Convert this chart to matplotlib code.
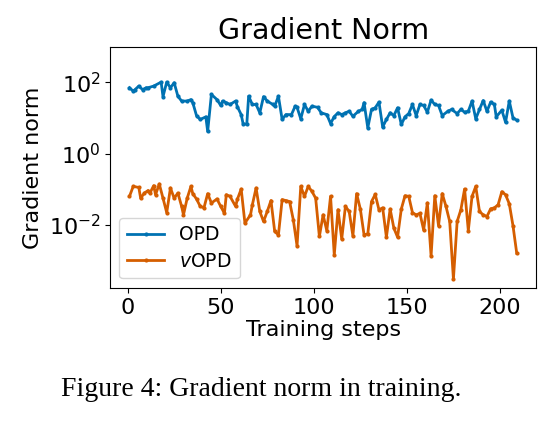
import matplotlib
matplotlib.use("Agg")
import matplotlib.pyplot as plt

# OPD gradient norm
opd_steps = [1, 3, 4, 6, 8, 10, 11, 14, 18, 19, 21, 23, 25, 27, 29, 32, 34, 35,
             37, 39, 42, 43, 45, 48, 50, 51, 53, 55, 58, 59, 61, 62, 64, 65, 67,
             69, 71, 73, 75, 78, 79, 81, 83, 85, 88, 90, 91, 93, 95, 97, 99, 102,
             104, 107, 109, 111, 113, 115, 117, 119, 121, 124, 126, 127, 129, 131,
             133, 135, 137, 139, 141, 143, 145, 147, 149, 151, 153, 155, 157, 159,
             161, 163, 165, 167, 169, 172, 174, 177, 179, 181, 183, 185, 187, 189,
             191, 193, 195, 197, 198, 201, 203, 205, 207, 209]
opd_norm = [71, 57, 63, 79, 63, 71, 71, 79, 102, 40, 102, 71, 98, 41, 30, 30, 33, 27,
            11.7, 9.1, 10.8, 4.2, 46, 33, 22.5, 30, 27, 24, 30, 20.5, 12.5, 7.0, 6.6, 41, 24,
            24, 14, 40, 30, 24, 21.5, 41, 9.1, 12.5, 12.5, 21.5, 20, 9.5, 24, 15.5, 21.5, 20,
            14, 12.5, 7.0, 11, 14, 12.5, 14, 15.5, 11.2, 15.5, 17.4, 27, 5.3, 17.4,
            19.4, 28, 5.6, 9.1, 14, 11.7, 19.4, 6.6, 10.8, 13.4, 24, 11.7, 24, 22.5,
            14.6, 32, 24, 22.5, 11.7, 15.5, 17.4, 13.4, 17.4, 14.6, 15.5, 30, 9.5, 17.4,
            31, 15.5, 28, 24, 10.8, 16.6, 7.6, 30, 10.1, 8.7]

# vOPD gradient norm
vopd_steps = [1, 3, 6, 7, 9, 11, 12, 14, 15, 17, 19, 21, 23, 25, 27, 29, 30, 32, 34,
              35, 37, 39, 41, 43, 45, 48, 50, 52, 53, 55, 58, 59, 61, 63, 66, 67, 69,
              71, 73, 75, 77, 79, 81, 83, 85, 87, 89, 91, 93, 95, 97, 99, 101, 103,
              105, 107, 109, 111, 113, 115, 117, 119, 121, 123, 125, 127, 129, 131,
              133, 135, 137, 139, 141, 143, 145, 147, 149, 151, 153, 155, 157, 159,
              161, 163, 165, 167, 169, 171, 173, 175, 177, 179, 181, 183, 185, 187,
              189, 191, 193, 195, 197, 199, 201, 203, 205, 207, 209]
vopd_norm = [0.063, 0.120, 0.112, 0.056, 0.078, 0.092, 0.078, 0.126, 0.070, 0.140,
             0.056, 0.022, 0.108, 0.056, 0.078, 0.033, 0.019, 0.056, 0.120, 0.075,
             0.053, 0.033, 0.030, 0.075, 0.041, 0.053, 0.033, 0.021, 0.070, 0.063,
             0.033, 0.053, 0.101, 0.0112, 0.019, 0.0366, 0.108, 0.0237, 0.0124, 0.0237,
             0.048, 0.0065, 0.0052, 0.051, 0.048, 0.045, 0.0138, 0.00256, 0.120, 0.063,
             0.120, 0.087, 0.056, 0.0047, 0.019, 0.0068, 0.063, 0.00143, 0.0265, 0.0040,
             0.033, 0.0237, 0.0049, 0.075, 0.0277, 0.0052, 0.0056, 0.045, 0.0714, 0.0265,
             0.030, 0.0045, 0.0277, 0.0081, 0.0045, 0.0277, 0.0656, 0.063, 0.022, 0.019,
             0.021, 0.0072, 0.041, 0.00134, 0.0656, 0.0094, 0.075, 0.033, 0.0124, 0.0003,
             0.0124, 0.0265, 0.101, 0.0069, 0.063, 0.120, 0.0237, 0.019, 0.0171, 0.0282,
             0.030, 0.0366, 0.085, 0.070, 0.039, 0.0094, 0.0016]

fig = plt.figure(figsize=(5.59, 4.22), dpi=100)
ax = fig.add_axes([0.197, 0.318, 0.762, 0.571])

ax.plot(opd_steps, opd_norm, color='#0072B2', lw=2, marker='.', ms=4, label='OPD')
ax.plot(vopd_steps, vopd_norm, color='#D55E00', lw=2, marker='.', ms=4, label='$v$OPD')

ax.set_yscale('log')
ax.set_ylim(10**-3.77, 10**3.0)
ax.set_title('Gradient Norm', fontsize=20.5)
ax.set_xlabel('Training steps', fontsize=16, labelpad=2)
ax.set_ylabel('Gradient norm', fontsize=16)
ax.tick_params(labelsize=16)
ax.legend(loc='lower left', fontsize=13.5, labelspacing=0.4)

# caption
fig.text(0.467, 0.077, 'Figure 4: Gradient norm in training.',
         family='Liberation Serif', fontsize=20, ha='center', va='center')

fig.savefig('out.png', dpi=100)
